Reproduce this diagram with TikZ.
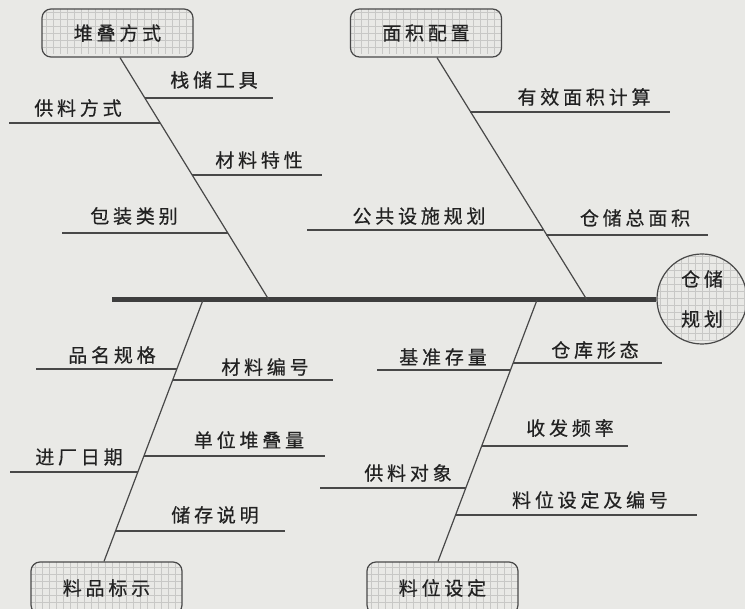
\documentclass[tikz,border=0pt]{standalone}
\usepackage{fontspec}
\newfontfamily\cjk[LetterSpace=20,FakeBold=0.4]{Noto Sans CJK SC}
\definecolor{bgcol}{RGB}{233,233,230}
\definecolor{linecol}{RGB}{72,72,72}
\definecolor{spinecol}{RGB}{62,62,62}
\definecolor{textcol}{RGB}{34,34,34}
\definecolor{gridcol}{RGB}{200,200,198}
\begin{document}
\begin{tikzpicture}[x=1pt,y=-1pt,
  gridfill/.style={path picture={\draw[gridcol,line width=0.6pt]
      ([shift={(-3pt,3pt)}]path picture bounding box.south west) grid[step=7pt]
      (path picture bounding box.north east);}},
  catbox/.style={draw=linecol,line width=1.2pt,rounded corners=9pt,
      minimum width=151pt,minimum height=48pt,inner sep=0pt,gridfill,
      font=\cjk\fontsize{19}{21}\selectfont,text=textcol},
  headnode/.style={draw=linecol,line width=1.2pt,circle,minimum size=90pt,
      inner sep=0pt,gridfill,align=center,
      font=\cjk\fontsize{19}{40}\selectfont,text=textcol},
  lbl/.style={font=\cjk\fontsize{19}{21}\selectfont,text=textcol,inner sep=0pt},
  bone/.style={draw=linecol,line width=1.2pt},
  twig/.style={draw=linecol,line width=1.2pt},
  spine/.style={draw=spinecol,line width=5pt}]
\useasboundingbox (0,0) rectangle (745,609);
\fill[bgcol] (0,0) rectangle (745,609);

% category boxes and head
\node[catbox] (b1) at (117.5,33) {堆叠方式};
\node[catbox] (b2) at (426,33) {面积配置};
\node[catbox,minimum height=52pt] (b3) at (106.5,588) {料品标示};
\node[catbox,minimum height=52pt] (b4) at (442.5,588) {料位设定};
\node[headnode] (head) at (702,299) {仓储\\规划};

% spine
\coordinate (tail) at (112,300);
\draw[spine] (tail) -- (tail -| head.west);

% bone ends on the spine
\coordinate (s1) at (269,300);
\coordinate (s2) at (587,300);
\coordinate (s3) at (203,300);
\coordinate (s4) at (537,300);
\draw[bone] ([xshift=2.5pt]b1.south) -- (s1);
\draw[bone] ([xshift=11pt]b2.south) -- (s2);
\draw[bone] (s3) -- ([xshift=-2.5pt]b3.north);
\draw[bone] (s4) -- ([xshift=-4.5pt]b4.north);

% upper-left twigs
\coordinate (j11) at (145,98);   \coordinate (e11) at (273,98);
\coordinate (j12) at (160,123);  \coordinate (e12) at (9,123);
\coordinate (j13) at (192,175);  \coordinate (e13) at (322,175);
\coordinate (j14) at (228,233);  \coordinate (e14) at (62,233);
\draw[twig] (j11) -- (e11);
\draw[twig] (j12) -- (e12);
\draw[twig] (j13) -- (e13);
\draw[twig] (j14) -- (e14);
\node[lbl] (t11) at (214,80) {栈储工具};
\node[lbl] (t12) at (78,108) {供料方式};
\node[lbl] (t13) at (259,160) {材料特性};
\node[lbl] (t14) at (134,216) {包装类别};

% upper-right twigs
\coordinate (j21) at (470,112);  \coordinate (e21) at (670,112);
\coordinate (j22) at (543,230);  \coordinate (e22) at (307,230);
\coordinate (j23) at (546,235);  \coordinate (e23) at (708,235);
\draw[twig] (j21) -- (e21);
\draw[twig] (j22) -- (e22);
\draw[twig] (j23) -- (e23);
\node[lbl] (t21) at (584,97) {有效面积计算};
\node[lbl] (t22) at (419,216) {公共设施规划};
\node[lbl] (t23) at (635,218) {仓储总面积};

% lower-left twigs
\coordinate (j31) at (177,369);  \coordinate (e31) at (36,369);
\coordinate (j32) at (173,380);  \coordinate (e32) at (333,380);
\coordinate (j33) at (144,456);  \coordinate (e33) at (325,456);
\coordinate (j34) at (138,472);  \coordinate (e34) at (10,472);
\coordinate (j35) at (116,531);  \coordinate (e35) at (285,531);
\draw[twig] (j31) -- (e31);
\draw[twig] (j32) -- (e32);
\draw[twig] (j33) -- (e33);
\draw[twig] (j34) -- (e34);
\draw[twig] (j35) -- (e35);
\node[lbl] (t31) at (112,355) {品名规格};
\node[lbl] (t32) at (265,367) {材料编号};
\node[lbl] (t33) at (249,440) {单位堆叠量};
\node[lbl] (t34) at (79,457) {进厂日期};
\node[lbl] (t35) at (215,515) {储存说明};

% lower-right twigs
\coordinate (j41) at (513,363);  \coordinate (e41) at (662,363);
\coordinate (j42) at (510,370);  \coordinate (e42) at (377,370);
\coordinate (j43) at (482,446);  \coordinate (e43) at (628,446);
\coordinate (j44) at (466,488);  \coordinate (e44) at (320,488);
\coordinate (j45) at (456,515);  \coordinate (e45) at (697,515);
\draw[twig] (j41) -- (e41);
\draw[twig] (j42) -- (e42);
\draw[twig] (j43) -- (e43);
\draw[twig] (j44) -- (e44);
\draw[twig] (j45) -- (e45);
\node[lbl] (t41) at (595,350) {仓库形态};
\node[lbl] (t42) at (443,357) {基准存量};
\node[lbl] (t43) at (570,428) {收发频率};
\node[lbl] (t44) at (408,473) {供料对象};
\node[lbl] (t45) at (590,500) {料位设定及编号};
\end{tikzpicture}
\end{document}
